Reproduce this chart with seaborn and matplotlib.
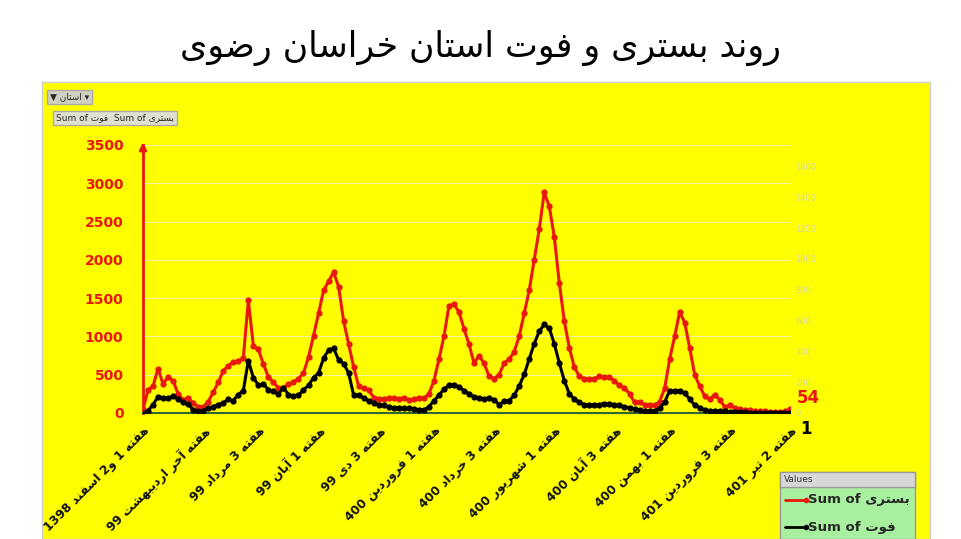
import matplotlib
matplotlib.use("Agg")
import matplotlib.pyplot as plt
from matplotlib.patches import Rectangle
import seaborn as sns
import pandas as pd
import re

# weekly values
hospitalized = [50, 300, 350, 580, 380, 470, 420, 250, 170, 200, 130, 80, 80, 150, 270, 400,
                550, 620, 660, 680, 720, 1470, 880, 830, 640, 470, 400, 330, 330, 380, 400, 450,
                520, 730, 1010, 1300, 1600, 1720, 1840, 1650, 1200, 900, 600, 350, 320, 300, 200,
                180, 180, 200, 190, 180, 200, 170, 180, 200, 190, 250, 420, 700, 1000, 1400, 1420,
                1320, 1100, 900, 650, 750, 650, 480, 450, 500, 650, 700, 800, 1000, 1300, 1600,
                2000, 2400, 2880, 2700, 2300, 1700, 1200, 850, 600, 480, 450, 440, 450, 480, 470,
                470, 420, 360, 330, 250, 140, 140, 110, 100, 100, 150, 320, 700, 1000, 1320, 1180,
                850, 500, 350, 220, 180, 240, 170, 80, 100, 70, 50, 40, 40, 30, 20, 20, 15, 15, 15,
                20, 54]
deaths = [0, 15, 55, 105, 100, 95, 110, 90, 70, 60, 20, 10, 15, 30, 40, 55, 65, 90, 80, 120,
          145, 340, 230, 180, 190, 150, 140, 125, 165, 120, 110, 115, 150, 180, 230, 260, 355,
          410, 420, 345, 320, 260, 115, 115, 95, 80, 65, 55, 50, 40, 35, 35, 30, 30, 25, 20, 20,
          40, 80, 115, 155, 180, 185, 170, 145, 125, 105, 100, 90, 100, 85, 55, 75, 80, 115, 175,
          250, 350, 450, 530, 575, 550, 450, 325, 210, 125, 90, 70, 55, 50, 55, 55, 60, 60, 55,
          50, 40, 35, 25, 20, 15, 15, 15, 30, 70, 145, 140, 145, 130, 90, 50, 35, 20, 15, 15, 10,
          10, 8, 6, 5, 4, 3, 3, 2, 2, 2, 2, 2, 1, 1]
tick_labels = ["هفته 1 و2 اسفند 1398", "هفته آخر اردیبهشت 99", "هفته 3 مرداد 99", "هفته 1 آبان 99",
               "هفته 3 دی 99", "هفته 1 فروردین 400", "هفته 3 خرداد 400", "هفته 1 شهریور 400",
               "هفته 3 آبان 400", "هفته 1 بهمن 400", "هفته 3 فروردین 401", "هفته 2 تیر 401"]
title = "روند بستری و فوت استان خراسان رضوی"

# minimal Arabic/Persian shaping: isolated, final, initial, medial
FORMS = {
    "ا": (0xFE8D, 0xFE8E, None, None), "آ": (0xFE81, 0xFE82, None, None),
    "ب": (0xFE8F, 0xFE90, 0xFE91, 0xFE92), "ت": (0xFE95, 0xFE96, 0xFE97, 0xFE98),
    "خ": (0xFEA5, 0xFEA6, 0xFEA7, 0xFEA8), "د": (0xFEA9, 0xFEAA, None, None),
    "ر": (0xFEAD, 0xFEAE, None, None), "ز": (0xFEAF, 0xFEB0, None, None),
    "س": (0xFEB1, 0xFEB2, 0xFEB3, 0xFEB4), "ش": (0xFEB5, 0xFEB6, 0xFEB7, 0xFEB8),
    "ض": (0xFEBD, 0xFEBE, 0xFEBF, 0xFEC0), "ف": (0xFED1, 0xFED2, 0xFED3, 0xFED4),
    "م": (0xFEE1, 0xFEE2, 0xFEE3, 0xFEE4), "ن": (0xFEE5, 0xFEE6, 0xFEE7, 0xFEE8),
    "ه": (0xFEE9, 0xFEEA, 0xFEEB, 0xFEEC), "و": (0xFEED, 0xFEEE, None, None),
    "ی": (0xFBFC, 0xFBFD, 0xFBFE, 0xFBFF),
}


def shape(text):
    out = []
    for i, ch in enumerate(text):
        if ch not in FORMS:
            out.append(ch)
            continue
        prev = text[i - 1] if i > 0 else ""
        nxt = text[i + 1] if i + 1 < len(text) else ""
        join_prev = prev in FORMS and FORMS[prev][2] is not None
        join_next = FORMS[ch][2] is not None and nxt in FORMS
        iso, fin, ini, med = FORMS[ch]
        if join_prev and join_next:
            code = med
        elif join_prev:
            code = fin
        elif join_next:
            code = ini
        else:
            code = iso
        out.append(chr(code))
    vis = "".join(out)[::-1]
    return re.sub(r"[0-9A-Za-z]+", lambda m: m.group(0)[::-1], vis)


df = pd.DataFrame({"week": range(len(hospitalized)), "hosp": hospitalized, "death": deaths})

sns.set_style("white")
fig = plt.figure(figsize=(9.61, 5.39), dpi=100)
fig.patch.set_facecolor("white")
fig.patches.append(Rectangle((42 / 961, 0), 888 / 961, 457 / 539, transform=fig.transFigure,
                             facecolor="#ffff00", edgecolor="#cccccc", zorder=-1))
fig.text(0.5, 0.895, shape(title), ha="center", fontsize=25, family="DejaVu Sans", color="black")

ax = fig.add_axes([143 / 961, 126 / 539, 647 / 961, 268 / 539])
ax.set_facecolor("#ffff00")
ax.patch.set_alpha(0)
for y in range(500, 3501, 500):
    ax.axhline(y, color="#f4f4b0", lw=0.7, zorder=0)
sns.lineplot(data=df, x="week", y="hosp", ax=ax, color="#e8180c", lw=2.2, marker="o",
             markersize=4.5, markeredgewidth=0)
ax.set_ylim(0, 3500)
ax.set_xlim(0, len(hospitalized) - 1)
ax.set_yticks(range(0, 3501, 500))
ax.tick_params(axis="y", colors="#e8180c", labelsize=10, length=0, pad=14)
for t in ax.get_yticklabels():
    t.set_fontweight("bold")
ticks = [round(k * 11.7) for k in range(len(tick_labels))]
ax.set_xticks(ticks)
ax.set_xticklabels([shape(t) for t in tick_labels], rotation=45, ha="right", va="top",
                   rotation_mode="anchor", fontsize=8.8, fontweight="bold", color="#111111")
ax.tick_params(axis="x", length=0, pad=8)
ax.set_xlabel("")
ax.set_ylabel("")
for s in ["top", "right"]:
    ax.spines[s].set_visible(False)
ax.spines["left"].set_color("#e8180c")
ax.spines["left"].set_linewidth(2)
ax.spines["bottom"].set_color("#336633")
ax.spines["bottom"].set_linewidth(1.5)
ax.annotate("", xy=(0, 1.02), xytext=(0, 0.98), xycoords="axes fraction",
            arrowprops=dict(arrowstyle="-|>", color="#e8180c", lw=2))

ax2 = ax.twinx()
sns.lineplot(data=df, x="week", y="death", ax=ax2, color="black", lw=2.2, marker="o",
             markersize=4.5, markeredgewidth=0)
ax2.set_ylim(0, 1740)
ax2.set_yticks(range(0, 1601, 200))
ax2.tick_params(axis="y", colors="#d8d8a0", labelsize=6, length=0, pad=4)
ax2.set_ylabel("")
for s in ax2.spines.values():
    s.set_visible(False)

ax.text(1.01, 0.055, "54", transform=ax.transAxes, color="#e8180c",
        fontsize=12, fontweight="bold", va="center")
ax.text(1.015, -0.025, "1", transform=ax.transAxes, color="black",
        fontsize=12, fontweight="bold", va="top")

# filter buttons
fig.text(50 / 961, 1 - 97 / 539, "▼ " + shape("استان") + " ▾", fontsize=6.5,
         family="DejaVu Sans", va="center",
         bbox=dict(boxstyle="square,pad=0.3", fc="#d0d0c0", ec="#aaaaaa"))
fig.text(56 / 961, 1 - 118 / 539, "Sum of " + shape("فوت") + "  Sum of " + shape("بستری"),
         fontsize=6.5, family="DejaVu Sans", va="center",
         bbox=dict(boxstyle="square,pad=0.3", fc="#e0e0d0", ec="#aaaaaa"))

# legend box
fig.patches.append(Rectangle((780 / 961, 0), 135 / 961, 67 / 539, transform=fig.transFigure,
                             facecolor="#a8f0a0", edgecolor="#999999"))
fig.patches.append(Rectangle((780 / 961, 52 / 539), 135 / 961, 15 / 539,
                             transform=fig.transFigure, facecolor="#d8d8d8", edgecolor="#999999"))
fig.text(784 / 961, 59 / 539, "Values", fontsize=6.5, va="center", color="#333333")
fig.lines.append(plt.Line2D([785 / 961, 806 / 961], [39 / 539, 39 / 539], transform=fig.transFigure,
                            color="#e8180c", lw=2, marker="o", markersize=3, markevery=[1]))
fig.text(808 / 961, 39 / 539, "Sum of " + shape("بستری"), fontsize=9.5, fontweight="bold",
         va="center", family="DejaVu Sans")
fig.lines.append(plt.Line2D([785 / 961, 806 / 961], [12 / 539, 12 / 539], transform=fig.transFigure,
                            color="black", lw=2, marker="o", markersize=3, markevery=[1]))
fig.text(808 / 961, 12 / 539, "Sum of " + shape("فوت"), fontsize=9.5, fontweight="bold",
         va="center", family="DejaVu Sans")

fig.savefig("out.png", dpi=100)
